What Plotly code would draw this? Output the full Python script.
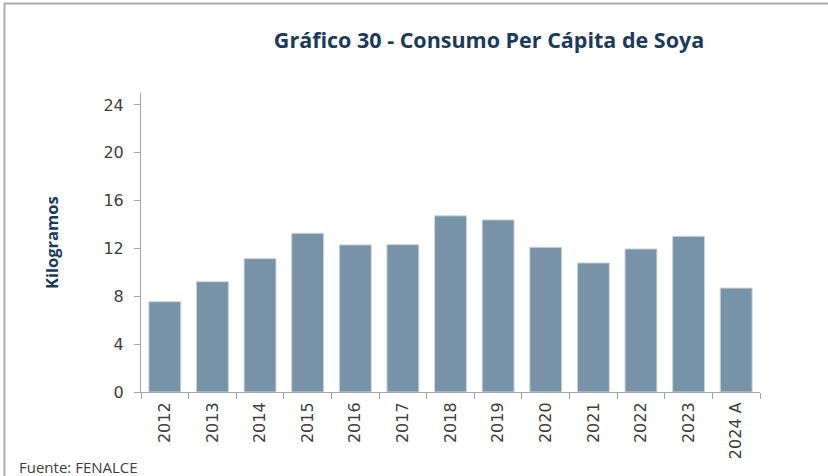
import plotly.graph_objects as go

years = ["2012", "2013", "2014", "2015", "2016", "2017", "2018", "2019",
         "2020", "2021", "2022", "2023", "2024 A"]
consumo_kg = [7.55, 9.22, 11.15, 13.27, 12.3, 12.32, 14.73, 14.39,
              12.1, 10.79, 11.96, 13.02, 8.69]
y_ticks = [0, 4, 8, 12, 16, 20, 24]

W, H = 828, 476
L, R, T, B = 141, 68, 93, 84
pw, ph = W - L - R, H - T - B

def px_x(p):
    return (p - L) / pw

def px_y(p):
    return (H - B - p) / ph

navy = "#1B3A5C"
gray_txt = "#404040"
axis_gray = "#A6A6A6"

fig = go.Figure(go.Bar(
    x=years, y=consumo_kg,
    marker=dict(color="#7893A8", line=dict(color="#C9D5DF", width=1)),
    width=0.67,
))

fig.update_layout(
    width=W, height=H,
    margin=dict(l=L, r=R, t=T, b=B, pad=0),
    paper_bgcolor="white", plot_bgcolor="white",
    showlegend=False,
    title=dict(text="<b>Gráfico 30 - Consumo Per Cápita de Soya</b>",
               x=489 / W, xanchor="center", xref="container",
               y=1 - 40 / H, yanchor="middle", yref="container",
               font=dict(family="Open Sans", size=21.5, color=navy)),
    xaxis=dict(
        type="category", tickson="boundaries", ticks="outside", ticklen=6,
        tickcolor=axis_gray, tickwidth=1,
        showline=True, linecolor=axis_gray, linewidth=1,
        tickangle=-90, tickfont=dict(family="DejaVu Sans", size=16, color=gray_txt),
        ticklabelstandoff=3,
        showgrid=False,
    ),
    yaxis=dict(
        range=[0, 25], tickvals=y_ticks, ticktext=[str(v) for v in y_ticks],
        ticks="outside", ticklen=6, tickcolor=axis_gray, tickwidth=1,
        showline=True, linecolor=axis_gray, linewidth=1,
        tickfont=dict(family="DejaVu Sans", size=16, color=gray_txt),
        ticklabelstandoff=7,
        showgrid=False, zeroline=False,
    ),
    annotations=[
        dict(text="<b>Kilogramos</b>", textangle=-90, x=px_x(51), y=px_y(243),
             xref="paper", yref="paper", showarrow=False,
             xanchor="center", yanchor="middle",
             font=dict(family="Open Sans", size=16.5, color=navy)),
        dict(text="Fuente: FENALCE", x=px_x(17), y=px_y(467),
             xref="paper", yref="paper", showarrow=False,
             xanchor="left", yanchor="middle",
             font=dict(family="Open Sans", size=15, color=gray_txt)),
    ],
    shapes=[
        dict(type="line", xref="paper", yref="paper",
             x0=px_x(4), x1=px_x(828), y0=px_y(3.5), y1=px_y(3.5),
             line=dict(color="#ABABAB", width=2)),
        dict(type="line", xref="paper", yref="paper",
             x0=px_x(4.5), x1=px_x(4.5), y0=px_y(3), y1=px_y(476),
             line=dict(color="#ABABAB", width=2)),
    ],
)

fig.write_html("out.html",
               config={"displayModeBar": False},
               post_script="document.body.style.margin='0';"
                           "document.body.style.overflow='hidden';")
